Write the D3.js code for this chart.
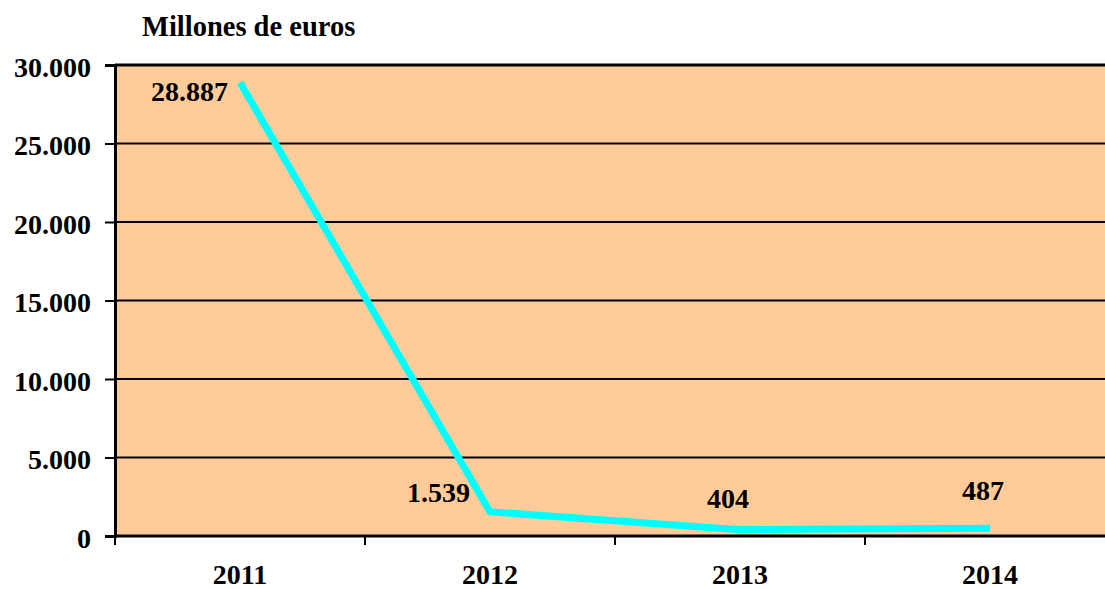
<!DOCTYPE html>
<html>
<head>
<meta charset="utf-8">
<script src="https://cdn.jsdelivr.net/npm/d3@7"></script>
<style>
  body { margin: 0; background: #fff; }
  svg text { font-family: "Liberation Serif", "Times New Roman", serif; font-weight: bold; fill: #000; }
</style>
</head>
<body>
<div id="container"></div>
<script>
/* DATA */
const years = ["2011", "2012", "2013", "2014"];
const values = [28887, 1539, 404, 487];
const valueLabels = ["28.887", "1.539", "404", "487"];
const yTicks = [0, 5000, 10000, 15000, 20000, 25000, 30000];
const yTickLabels = ["0", "5.000", "10.000", "15.000", "20.000", "25.000", "30.000"];
const unitLabel = "Millones de euros";

/* LAYOUT */
const width = 1105,
  height = 589,
  margin = { top: 65, bottom: 53, left: 115, right: -10 },
  fontSize = 28;
// label placement relative to each point: [dx, dy, anchor]
const labelPos = [[-12, 19, "end"], [-20, -10, "end"], [-12, -22, "middle"], [-7, -28, "middle"]];

const svg = d3.select("#container")
  .append("svg")
  .attr("width", width)
  .attr("height", height);

const xScale = d3.scaleBand()
  .domain(years)
  .range([margin.left, width - margin.right]);

const yScale = d3.scaleLinear()
  .domain([0, 30000])
  .range([height - margin.bottom, margin.top]);

// plot background
svg.append("rect")
  .attr("x", margin.left)
  .attr("y", margin.top)
  .attr("width", width - margin.right - margin.left)
  .attr("height", yScale(0) - margin.top)
  .attr("fill", "#FFCC99");

// gridlines
svg.append("g")
  .selectAll("line")
  .data(yTicks.filter(d => d > 0))
  .join("line")
  .attr("x1", margin.left)
  .attr("x2", width)
  .attr("y1", d => yScale(d))
  .attr("y2", d => yScale(d))
  .attr("stroke", "#000")
  .attr("stroke-width", d => d === 30000 ? 3 : 2);

// y axis
const yAxis = d3.axisLeft(yScale)
  .tickValues(yTicks)
  .tickFormat((d, i) => yTickLabels[i])
  .tickSize(10)
  .tickPadding(14);

const yAxisG = svg.append("g")
  .attr("transform", `translate(${margin.left},0)`)
  .call(yAxis);
yAxisG.select(".domain").attr("stroke", "#000").attr("stroke-width", 3);
yAxisG.selectAll(".tick line").attr("stroke", "#000").attr("stroke-width", 2);
yAxisG.selectAll(".tick text")
  .attr("font-size", fontSize)
  .attr("font-family", null)
  .attr("dy", "0.4em");

// x axis
const xAxisG = svg.append("g")
  .attr("transform", `translate(0,${yScale(0)})`);
xAxisG.append("line")
  .attr("x1", margin.left)
  .attr("x2", width)
  .attr("stroke", "#000")
  .attr("stroke-width", 3);
xAxisG.selectAll(".xtick")
  .data(years)
  .join("line")
  .attr("class", "xtick")
  .attr("x1", d => xScale(d))
  .attr("x2", d => xScale(d))
  .attr("y1", 0)
  .attr("y2", 9)
  .attr("stroke", "#000")
  .attr("stroke-width", 2);
xAxisG.selectAll(".xlabel")
  .data(years)
  .join("text")
  .attr("class", "xlabel")
  .attr("x", d => xScale(d) + xScale.bandwidth() / 2)
  .attr("y", 48)
  .attr("text-anchor", "middle")
  .attr("font-size", fontSize)
  .text(d => d);

// line
const line = d3.line()
  .x((d, i) => xScale(years[i]) + xScale.bandwidth() / 2)
  .y(d => yScale(d));

svg.append("path")
  .datum(values)
  .attr("d", line)
  .attr("fill", "none")
  .attr("stroke", "#00FFFF")
  .attr("stroke-width", 7)
  .attr("stroke-linejoin", "round");

// data labels
svg.append("g")
  .selectAll("text")
  .data(values)
  .join("text")
  .attr("x", (d, i) => xScale(years[i]) + xScale.bandwidth() / 2 + labelPos[i][0])
  .attr("y", (d, i) => yScale(d) + labelPos[i][1])
  .attr("text-anchor", (d, i) => labelPos[i][2])
  .attr("font-size", fontSize)
  .text((d, i) => valueLabels[i]);

// unit label
svg.append("text")
  .attr("x", 142)
  .attr("y", 36)
  .attr("font-size", 28.5)
  .text(unitLabel);
</script>
</body>
</html>
